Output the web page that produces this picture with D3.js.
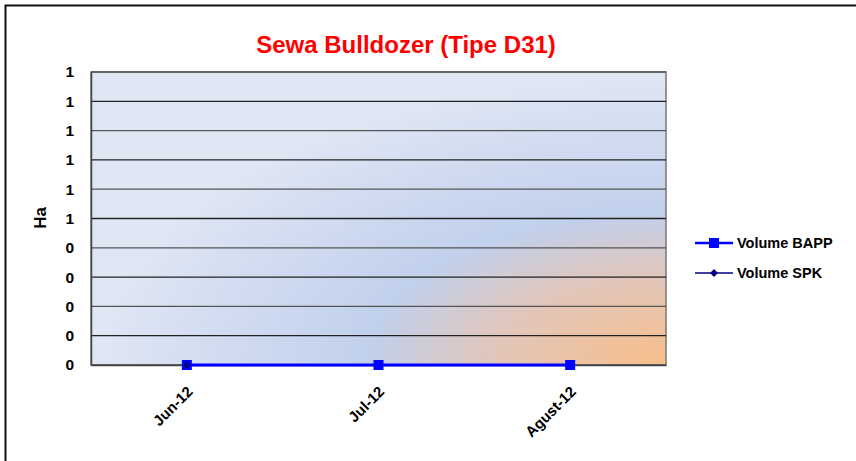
<!DOCTYPE html>
<html>
<head>
<meta charset="utf-8">
<script src="https://cdn.jsdelivr.net/npm/d3@7"></script>
<style>
  body { margin: 0; background: #fff; }
  svg { display: block; font-family: Arial, "Liberation Sans", sans-serif; }
</style>
</head>
<body>
<svg id="canvas" width="856" height="461"></svg>
<script>
// chart data
let months = ["Jun-12", "Jul-12", "Agust-12"]
let volumeBAPP = [0, 0, 0]
let volumeSPK = [0, null, null]
let seriesNames = ["Volume BAPP", "Volume SPK"]
let yTicks = [0, 0.1, 0.2, 0.3, 0.4, 0.5, 0.6, 0.7, 0.8, 0.9, 1]

let canvas = d3.select("#canvas")

let margin = { left: 91, top: 72, right: 666, bottom: 365 }

let xScale = d3.scaleBand()
  .domain(months)
  .range([margin.left, margin.right])
  .padding(0)

let yScale = d3.scaleLinear()
  .domain([0, 1])
  .range([margin.bottom, margin.top])

// outer frame (cut off on right/bottom in the original)
canvas.append("rect")
  .attr("x", 5.5).attr("y", 5.5)
  .attr("width", 900).attr("height", 500)
  .attr("fill", "#fff")
  .attr("stroke", "#111")
  .attr("stroke-width", 2)

// plot background gradient
let defs = canvas.append("defs")
let grad = defs.append("radialGradient")
  .attr("id", "plotBg")
  .attr("cx", 1).attr("cy", 1).attr("r", 1)
  .attr("fx", 1).attr("fy", 1)
grad.append("stop").attr("offset", "0%").attr("stop-color", "#f8be8a")
grad.append("stop").attr("offset", "30%").attr("stop-color", "#e2c6ba")
grad.append("stop").attr("offset", "52%").attr("stop-color", "#c1d0ec")
grad.append("stop").attr("offset", "80%").attr("stop-color", "#d3ddf1")
grad.append("stop").attr("offset", "100%").attr("stop-color", "#e0e7f4")

canvas.append("rect")
  .attr("x", margin.left).attr("y", margin.top)
  .attr("width", margin.right - margin.left)
  .attr("height", margin.bottom - margin.top)
  .attr("fill", "url(#plotBg)")
  .attr("stroke", "#777")
  .attr("stroke-width", 1.5)

// gridlines
canvas.append("g")
  .selectAll("line")
  .data(yTicks)
  .enter()
  .append("line")
  .attr("x1", margin.left)
  .attr("x2", margin.right)
  .attr("y1", (d) => yScale(d))
  .attr("y2", (d) => yScale(d))
  .attr("stroke", (d, i) => i % 2 === 0 ? "#555" : "#222")
  .attr("stroke-width", 1.3)

// y axis
let yAxis = d3.axisLeft(yScale)
  .tickValues(yTicks)
  .tickFormat((d) => String(Math.round(d)))
  .tickSize(0)
  .tickPadding(17)

let yAxisGroup = canvas.append("g")
  .attr("transform", "translate(" + margin.left + ",0)")
  .call(yAxis)
yAxisGroup.select(".domain").attr("stroke", "#444").attr("stroke-width", 1.5)
yAxisGroup.selectAll("text")
  .attr("font-size", "15.5px")
  .attr("font-weight", "bold")
  .attr("fill", "#000")
  .attr("font-family", "Arial, 'Liberation Sans', sans-serif")

// x axis
let xAxis = d3.axisBottom(xScale).tickSize(0).tickPadding(0)
let xAxisGroup = canvas.append("g")
  .attr("transform", "translate(0," + margin.bottom + ")")
  .call(xAxis)
xAxisGroup.select(".domain").attr("stroke", "#444").attr("stroke-width", 1.5)
xAxisGroup.selectAll("text")
  .attr("font-size", "15px")
  .attr("font-weight", "bold")
  .attr("fill", "#000")
  .attr("font-family", "Arial, 'Liberation Sans', sans-serif")
  .attr("text-anchor", "end")
  .attr("y", 0)
  .attr("dy", "0.35em")
  .attr("transform", "translate(3,24) rotate(-45)")

// axis title
canvas.append("text")
  .attr("transform", "translate(46,218) rotate(-90)")
  .attr("text-anchor", "middle")
  .attr("font-size", "17px")
  .attr("font-weight", "bold")
  .text("Ha")

// chart title
canvas.append("text")
  .attr("x", 406)
  .attr("y", 53)
  .attr("text-anchor", "middle")
  .attr("font-size", "24px")
  .attr("font-weight", "bold")
  .attr("fill", "#ff0000")
  .text("Sewa Bulldozer (Tipe D31)")

let xPos = (d, i) => xScale(months[i]) + xScale.bandwidth() / 2

// series BAPP
let lineGen = d3.line()
  .defined((d) => d !== null)
  .x(xPos)
  .y((d) => yScale(d))

canvas.append("path")
  .datum(volumeBAPP)
  .attr("fill", "none")
  .attr("stroke", "#0000ff")
  .attr("stroke-width", 3)
  .attr("d", lineGen)

canvas.append("g")
  .selectAll("rect")
  .data(volumeBAPP)
  .enter()
  .append("rect")
  .attr("x", (d, i) => xPos(d, i) - 5)
  .attr("y", (d) => yScale(d) - 5)
  .attr("width", 10)
  .attr("height", 10)
  .attr("fill", "#0000ff")

// series SPK
canvas.append("path")
  .datum(volumeSPK)
  .attr("fill", "none")
  .attr("stroke", "#000080")
  .attr("stroke-width", 2)
  .attr("d", lineGen)

canvas.append("g")
  .selectAll("path")
  .data(volumeSPK.map((v, i) => ({ v: v, i: i })).filter((d) => d.v !== null))
  .enter()
  .append("path")
  .attr("d", d3.symbol().type(d3.symbolDiamond2).size(40))
  .attr("transform", (d) => "translate(" + xPos(d.v, d.i) + "," + yScale(d.v) + ")")
  .attr("fill", "#000080")

// legend
let legend = canvas.append("g")
let legendY = [243, 273]
seriesNames.forEach((name, i) => {
  let g = legend.append("g").attr("transform", "translate(695," + legendY[i] + ")")
  g.append("line")
    .attr("x1", 0).attr("x2", 38)
    .attr("stroke", i === 0 ? "#0000ff" : "#000080")
    .attr("stroke-width", i === 0 ? 2.5 : 1.5)
  if (i === 0) {
    g.append("rect").attr("x", 14).attr("y", -5).attr("width", 10).attr("height", 10).attr("fill", "#0000ff")
  } else {
    g.append("path")
      .attr("d", d3.symbol().type(d3.symbolDiamond2).size(40))
      .attr("transform", "translate(19,0)")
      .attr("fill", "#000080")
  }
  g.append("text")
    .attr("x", 42)
    .attr("dy", "0.35em")
    .attr("font-size", "14.5px")
    .attr("font-weight", "bold")
    .text(name)
})
</script>
</body>
</html>
